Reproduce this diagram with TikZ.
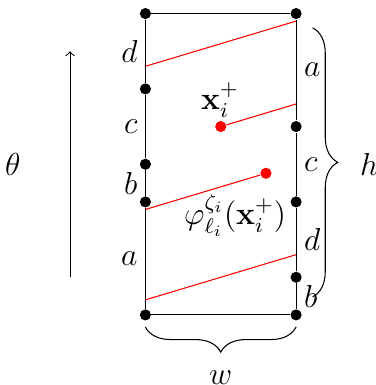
\documentclass[tikz,border=0pt]{standalone}
\usepackage{amsmath, amssymb, amsfonts, xcolor, tikz}
\usetikzlibrary{decorations.pathreplacing}

\begin{document}
\begin{tikzpicture}[font=\large,
    dot/.style={circle,fill=black,inner sep=0pt,minimum size=4.2pt},
    reddot/.style={dot,fill=red},
    cut/.style={red},
    side/.style={inner sep=2.8pt},
    curly/.style={decorate,decoration={brace,amplitude=9.5pt}}]
\useasboundingbox (-1.93,-0.93) rectangle (3.06,4.18);
%Start with the corners of the cell, then the marked points
% on the two vertical sides
\node[dot] (bl) at (0,0) {};
\node[dot] (br) at (2,0) {};
\node[dot] (tr) at (2,4) {};
\node[dot] (tl) at (0,4) {};
\node[dot] (l1) at (0,3) {};
\node[dot] (l2) at (0,2) {};
\node[dot] (l3) at (0,1.5) {};
\node[dot] (r1) at (2,2.5) {};
\node[dot] (r2) at (2,1.5) {};
\node[dot] (r3) at (2,0.5) {};
\draw (bl)--(br)--(r3)--(r2)--(r1)--(tr)--(tl)--(l1)--(l2)--(l3)--(bl);
% the labels of the pieces of each side
\node[side,left] (ld) at (0,3.5) {$d$};
\node[side,left] (lc) at (0,2.5) {$c$};
\node[side,left] (lb) at (0,1.75) {$b$};
\node[side,left] (la) at (0,0.75) {$a$};
\node[side,right] (ra) at (2,3.25) {$a$};
\node[side,right] (rc) at (2,2) {$c$};
\node[side,right] (rd) at (2,1) {$d$};
\node[side,right] (rb) at (2,0.25) {$b$};
% the orbit, wrapping round the cell
\node[reddot] (xp) at (1,2.5) {};
\node[reddot] (fx) at (1.6,1.88) {};
\coordinate (s1) at (0,3.3);
\coordinate (e1) at (2,3.9);
\coordinate (e2) at (2,2.8);
\coordinate (s3) at (0,1.4);
\coordinate (s4) at (0,0.2);
\coordinate (e4) at (2,0.8);
\draw[cut] (s1)--(e1);
\draw[cut] (xp)--(e2);
\draw[cut] (s3)--(fx);
\draw[cut] (s4)--(e4);
\node[inner sep=0pt] (xlab) at (0.99,2.85) {$\mathbf{x}_i^+$};
\node[inner sep=0pt] (flab) at (1.19,1.32) {$\varphi_{\ell_i}^{\zeta_i}(\mathbf{x}_i^+)$};
% sizes of the cell
\coordinate (h1) at (2.22,3.81);
\coordinate (h2) at (2.22,0.24);
\draw[curly] (h1)--(h2);
\node (h) at (2.97,2) {$h$};
\coordinate (w1) at (2,-0.16);
\coordinate (w2) at (0,-0.16);
\draw[curly] (w1)--(w2);
\node (w) at (1,-0.83) {$w$};
% direction of the angle
\coordinate (t1) at (-1,0.5);
\coordinate (t2) at (-1,3.5);
\draw[->] (t1)--(t2);
\node (theta) at (-1.76,2) {$\theta$};
\end{tikzpicture}
\end{document}
